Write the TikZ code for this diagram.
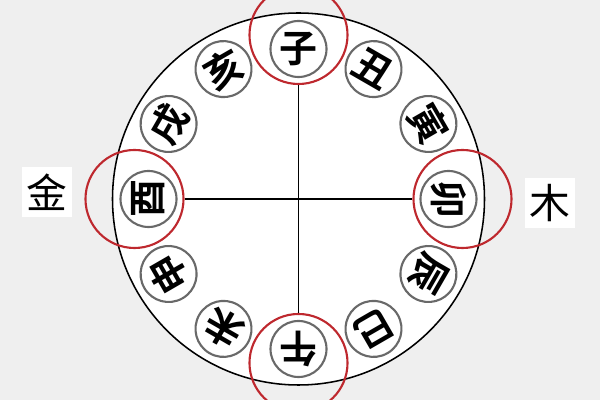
\documentclass[tikz,border=0pt]{standalone}
\usepackage{tikz}
\usepackage{xcolor}
\usepackage{fontspec}
\newfontfamily\cjk{Noto Sans CJK SC}
\newfontfamily\cjkbold{Noto Sans CJK SC Bold}
\definecolor{ringred}{RGB}{190,40,46}
\definecolor{ringgray}{RGB}{105,105,105}
\definecolor{paper}{RGB}{239,239,239}

\begin{document}
\begin{tikzpicture}[x=0.025cm,y=0.025cm]
    \tikzstyle{branch} = [circle, draw=ringgray, line width=1.5pt, fill=white, minimum size=1.4cm, inner sep=0pt, font=\cjkbold\fontsize{27}{27}\selectfont]
    \tikzstyle{redring} = [circle, draw=ringred, line width=1.5pt, minimum size=2.45cm, inner sep=0pt]
    \tikzstyle{element} = [rectangle, fill=white, minimum size=1.25cm, inner sep=0pt, font=\cjk\fontsize{29}{29}\selectfont]

    \fill[paper] (0,0) rectangle (600,400);
    \useasboundingbox (0,0) rectangle (600,400);
    \coordinate (C) at (298.5,201);
    \draw[line width=1.1pt, fill=white] (C) circle (186);

    \foreach \n/\a in {0/90, 3/0, 6/-90, 9/180}
        \node[redring] (r\n) at ([shift={(\a:164)}]C) {};

    \foreach \ch [count=\i from 0] in {子,丑,寅,卯,辰,巳,午,未,申,酉,戌,亥}
        \node[branch, rotate=-30*\i] (b\i) at ([shift={(90-30*\i:150)}]C) {\ch};

    \draw[line width=0.9pt] (r0) -- (r6);
    \draw[line width=0.9pt] (r9) -- (r3);

    \node[element] (jin) at (47,208) {金};
    \node[element] (mu) at (550,197) {木};
\end{tikzpicture}
\end{document}
